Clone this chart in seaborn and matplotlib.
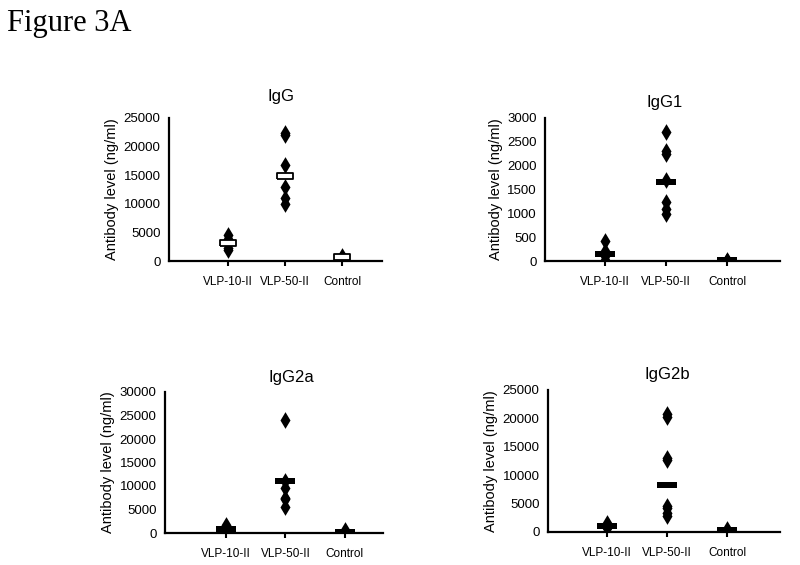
import numpy as np
import pandas as pd
import matplotlib
matplotlib.use("Agg")
import matplotlib.pyplot as plt
import seaborn as sns

groups = ["VLP-10-II", "VLP-50-II", "Control"]

# IgG
igg_vlp10 = [4600, 3900, 2300, 1900]
igg_vlp50 = [22300, 22000, 16800, 13000, 11000, 10000]
igg_ctrl = [900, 400, 200]
igg_means = [3200, 14900, 700]

# IgG1
igg1_vlp10 = [420, 200, 150, 100, 20, 0]
igg1_vlp50 = [2700, 2300, 2250, 1700, 1230, 1100, 980]
igg1_ctrl = [30, 10, 0]
igg1_means = [150, 1660, 20]

# IgG2a
igg2a_vlp10 = [1800, 1200, 800, 500, 200]
igg2a_vlp50 = [24000, 11000, 9600, 7500, 7200, 5500]
igg2a_ctrl = [600, 200, 0]
igg2a_means = [800, 11000, 300]

# IgG2b
igg2b_vlp10 = [1600, 1300, 900, 700]
igg2b_vlp50 = [20700, 20300, 13000, 12600, 4600, 4200, 3300, 2800]
igg2b_ctrl = [600, 200, 100]
igg2b_means = [1100, 8200, 300]

titles = ["IgG", "IgG1", "IgG2a", "IgG2b"]
ymax = [25000, 3000, 30000, 25000]
ystep = [5000, 500, 5000, 5000]

sns.set_style("white")
plt.rcParams["font.family"] = ["Liberation Sans", "DejaVu Sans"]
plt.rcParams["text.color"] = "black"
plt.rcParams["axes.labelcolor"] = "black"
plt.rcParams["xtick.color"] = "black"
plt.rcParams["ytick.color"] = "black"

fig = plt.figure(figsize=(8, 5.65), dpi=100)

W, H = 800, 565
# (left, right, top(ymax px), bottom(0 px)) in pixels
boxes = [(169, 382, 118, 261), (545, 780, 118, 261),
         (165, 383, 392, 533), (548, 780, 390, 532)]
xlims = [(-1.035, 2.70), (-0.984, 2.87), (-1.025, 2.64), (-0.983, 2.88)]
title_pos = [(0.526, 1.15), (0.51, 1.11), (0.58, 1.106), (0.513, 1.106)]

data = [
    (igg_vlp10, igg_vlp50, igg_ctrl, igg_means),
    (igg1_vlp10, igg1_vlp50, igg1_ctrl, igg1_means),
    (igg2a_vlp10, igg2a_vlp50, igg2a_ctrl, igg2a_means),
    (igg2b_vlp10, igg2b_vlp50, igg2b_ctrl, igg2b_means),
]

def bar_marker(ratio):
    return [(-1, -ratio), (1, -ratio), (1, ratio), (-1, ratio), (-1, -ratio)]

for i, (v10, v50, vc, means) in enumerate(data):
    l, r, t, b = boxes[i]
    ax = fig.add_axes([l / W, 1 - b / H, (r - l) / W, (b - t) / H])
    df = pd.DataFrame({
        "group": [groups[0]] * len(v10) + [groups[1]] * len(v50) + [groups[2]] * len(vc),
        "value": list(v10) + list(v50) + list(vc),
    })
    mdf = pd.DataFrame({"group": groups, "value": means})
    sns.stripplot(data=df, x="group", y="value", order=groups, jitter=False,
                  marker="d", color="black", size=8.5, linewidth=0, ax=ax, zorder=3)
    if i == 0:
        sns.stripplot(data=mdf, x="group", y="value", order=groups, jitter=False,
                      marker=bar_marker(0.38), color="white", edgecolor="black",
                      linewidth=1.3, size=11, ax=ax, zorder=4)
    else:
        sns.stripplot(data=mdf, x="group", y="value", order=groups, jitter=False,
                      marker=bar_marker(0.32), color="black", linewidth=0,
                      size=14.5, ax=ax, zorder=4)
    ax.set_xlim(*xlims[i])
    ax.set_ylim(0, ymax[i])
    ax.set_yticks(np.arange(0, ymax[i] + 1, ystep[i]))
    ax.set_xlabel("")
    ax.set_ylabel("Antibody level (ng/ml)", fontsize=10.5, labelpad=3, color="black")
    for s in ["top", "right"]:
        ax.spines[s].set_visible(False)
    for s in ["left", "bottom"]:
        ax.spines[s].set_color("black")
        ax.spines[s].set_linewidth(1.6)
        ax.spines[s].set_visible(True)
    ax.tick_params(axis="y", length=0, pad=6, labelsize=9.5, colors="black")
    ax.tick_params(axis="x", direction="out", length=3.5, width=1.5, pad=7,
                   labelsize=8.5, colors="black", bottom=True)
    ax.grid(False)
    tx, ty = title_pos[i]
    ax.text(tx, ty, titles[i], transform=ax.transAxes, ha="center", va="center",
            fontsize=12, color="black")

fig.text(7 / W, 1 - 31 / H, "Figure 3A", fontfamily=["Liberation Serif", "DejaVu Serif"],
         fontsize=22, va="baseline", ha="left", color="black")

fig.savefig("out.png", dpi=100)
